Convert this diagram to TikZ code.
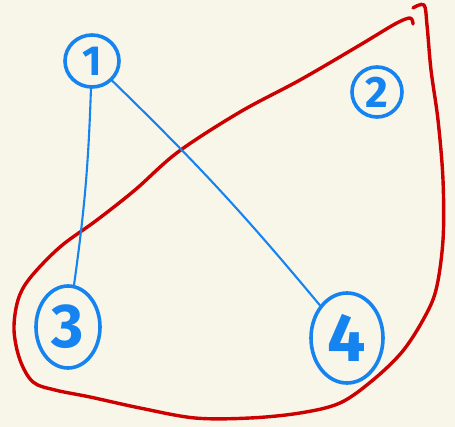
\documentclass[tikz,border=0pt]{standalone}
\usepackage{fontspec}
\setmainfont{Fira Sans}
\usetikzlibrary{shapes.geometric}
\definecolor{bg}{RGB}{248,245,233}
\definecolor{pen}{RGB}{22,132,240}
\definecolor{redpen}{RGB}{204,0,0}
\begin{document}
\begin{tikzpicture}[x=1pt,y=-1pt,
  vertex/.style={ellipse, draw=pen, line width=3.6pt, text=pen, inner sep=0pt, font=\bfseries},
  link/.style={draw=pen, line width=2.1pt, line cap=round},
  hull/.style={draw=redpen, line width=3.4pt, line cap=round, line join=round}]
\fill[bg] (0,0) rectangle (455,427);
\useasboundingbox (0,0) rectangle (455,427);
\draw[hull] plot[smooth, tension=0.55] coordinates {
  (413,8) (424,5) (427,25) (431,70) (438,120) (443,180) (443,240) (436,290) (423,320) (402,352)
  (373,380) (340,403) (300,413) (250,418) (195,418) (140,408) (90,397) (55,390) (33,382) (20,360)
  (14,330) (18,300) (30,278) (60,247) (97,220) (135,190) (178,152) (240,112) (300,80) (360,45)
  (395,24) (410,18) (413,24)};
\node[vertex, minimum width=54pt, minimum height=52pt, font=\bfseries\fontsize{42}{42}\selectfont] (n1) at (92,61) {1};
\node[vertex, minimum width=50pt, minimum height=50pt, font=\bfseries\fontsize{44}{44}\selectfont] (n2) at (377,92) {2};
\node[vertex, minimum width=64pt, minimum height=82pt, font=\bfseries\fontsize{62}{62}\selectfont] (n3) at (68,327) {3};
\node[vertex, minimum width=72pt, minimum height=90pt, font=\bfseries\fontsize{68}{68}\selectfont] (n4) at (347,338) {4};
\draw[link] (n1) to[bend left=3] (n3);
\draw[link] (n1) to[bend left=3] (n4);
\end{tikzpicture}
\end{document}
